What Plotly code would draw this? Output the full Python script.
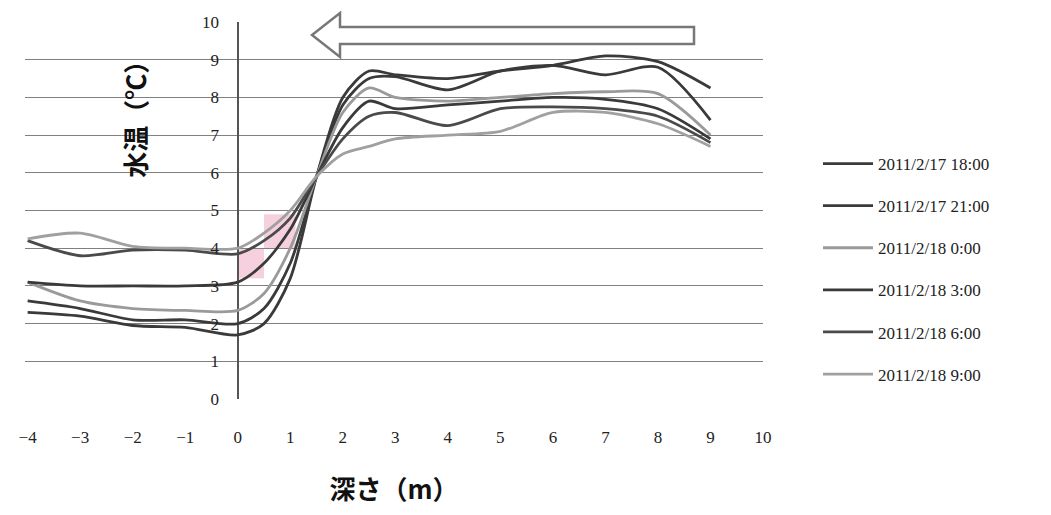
import plotly.graph_objects as go

# ---- data ----
depth = [-4, -3, -2, -1, 0, 0.5, 1, 1.5, 2, 2.5, 3, 4, 5, 6, 7, 8, 9]

series_names = ["2011/2/17 18:00", "2011/2/17 21:00", "2011/2/18 0:00",
                "2011/2/18 3:00", "2011/2/18 6:00", "2011/2/18 9:00"]

t_1718 = [2.3, 2.2, 1.95, 1.9, 1.7, 2.0, 3.2, 5.9, 8.0, 8.7, 8.6, 8.5, 8.7, 8.85, 9.1, 8.95, 8.25]
t_1721 = [2.6, 2.4, 2.1, 2.1, 2.0, 2.4, 3.6, 5.9, 7.8, 8.5, 8.55, 8.2, 8.7, 8.85, 8.6, 8.8, 7.4]
t_1800 = [3.1, 2.6, 2.4, 2.35, 2.35, 2.8, 4.0, 5.9, 7.6, 8.25, 8.0, 7.9, 8.0, 8.1, 8.15, 8.1, 7.0]
t_1803 = [3.1, 3.0, 3.0, 3.0, 3.1, 3.6, 4.5, 5.9, 7.2, 7.9, 7.7, 7.8, 7.9, 8.0, 7.95, 7.7, 6.9]
t_1806 = [4.2, 3.8, 3.95, 3.95, 3.85, 4.2, 4.8, 5.9, 6.9, 7.5, 7.6, 7.25, 7.7, 7.75, 7.7, 7.5, 6.8]
t_1809 = [4.25, 4.4, 4.05, 4.0, 4.0, 4.4, 5.0, 5.9, 6.5, 6.7, 6.9, 7.0, 7.1, 7.6, 7.6, 7.3, 6.7]

all_series = [t_1718, t_1721, t_1800, t_1803, t_1806, t_1809]
line_colors = ["#3a3a3a", "#3a3a3a", "#9a9a9a", "#3a3a3a", "#4a4a4a", "#a0a0a0"]

x_ticks = list(range(-4, 11))
y_ticks = list(range(0, 11))

# ---- layout geometry (page offset of 8px from the html body margin) ----
W, H = 1051, 515
OFF = 8
ML, MR, MT, MB = 25 - OFF, 288 + OFF, 22 - OFF, 116 + OFF
XMIN, XMAX = -4.05, 10.0
plot_w = W - ML - MR
plot_h = H - MT - MB

def px_to_paper_x(px):
    return (px - OFF - ML) / plot_w

def py_to_paper_y(py):
    return (OFF + MT + plot_h - py) / plot_h

fig = go.Figure()

for i, (name, vals) in enumerate(zip(series_names, all_series)):
    fig.add_trace(go.Scatter(
        x=depth, y=vals, name=name, mode="lines",
        line=dict(color=line_colors[i], width=2.8, shape="spline", smoothing=0.8),
        legendgroup=f"g{i}",
    ))

# faint pink patch (as in the scanned original)
fig.add_shape(type="rect", xref="x", yref="y", x0=0.0, x1=0.5, y0=3.2, y1=4.0,
              fillcolor="rgba(230,120,160,0.35)", line=dict(width=0), layer="below")
fig.add_shape(type="rect", xref="x", yref="y", x0=0.5, x1=1.1, y0=4.0, y1=4.9,
              fillcolor="rgba(230,120,160,0.35)", line=dict(width=0), layer="below")

# hollow arrow pointing left (paper coordinates)
tip = (px_to_paper_x(312), py_to_paper_y(35))
hx = px_to_paper_x(340)
tail = px_to_paper_x(694)
st, sb = py_to_paper_y(27), py_to_paper_y(44)
ht, hb = py_to_paper_y(13), py_to_paper_y(57)
path = (f"M {tail},{st} L {hx},{st} L {hx},{ht} L {tip[0]},{tip[1]} "
        f"L {hx},{hb} L {hx},{sb} L {tail},{sb} Z")
fig.add_shape(type="path", xref="paper", yref="paper", path=path,
              fillcolor="white", line=dict(color="#777777", width=2.5))

# y-axis title (placed left of the axis)
fig.add_annotation(x=-1.97, y=7.6, xref="x", yref="y", text="<b>水温（℃）</b>",
                   textangle=-90, showarrow=False,
                   font=dict(family="Noto Sans CJK JP", size=26, color="#111111"))

fig.update_layout(
    width=W, height=H,
    margin=dict(l=ML, r=MR, t=MT, b=MB),
    plot_bgcolor="white", paper_bgcolor="white",
    showlegend=True,
    legend=dict(x=px_to_paper_x(818), y=py_to_paper_y(146), xanchor="left", yanchor="top",
                font=dict(family="Liberation Serif", size=17, color="#222222"),
                itemwidth=50, tracegroupgap=17, bgcolor="rgba(0,0,0,0)"),
    xaxis=dict(range=[XMIN, XMAX], tickmode="array", tickvals=x_ticks, automargin=False,
               showgrid=False, zeroline=True, zerolinecolor="#555555", zerolinewidth=1.5,
               showline=False, ticks="", ticklabelstandoff=26,
               tickfont=dict(family="Liberation Serif", size=17, color="#222222"),
               title=dict(text="<b>深さ（m）</b>", standoff=34,
                          font=dict(family="Noto Sans CJK JP", size=26, color="#111111"))),
    yaxis=dict(range=[0, 10], tickmode="array", tickvals=y_ticks, automargin=False,
               anchor="free", position=px_to_paper_x(239),
               showgrid=True, gridcolor="#808080", gridwidth=1.2,
               zeroline=False, showline=False, ticks="", ticklabelstandoff=20,
               tickfont=dict(family="Liberation Serif", size=17, color="#222222")),
)

fig.write_html("out.html")
